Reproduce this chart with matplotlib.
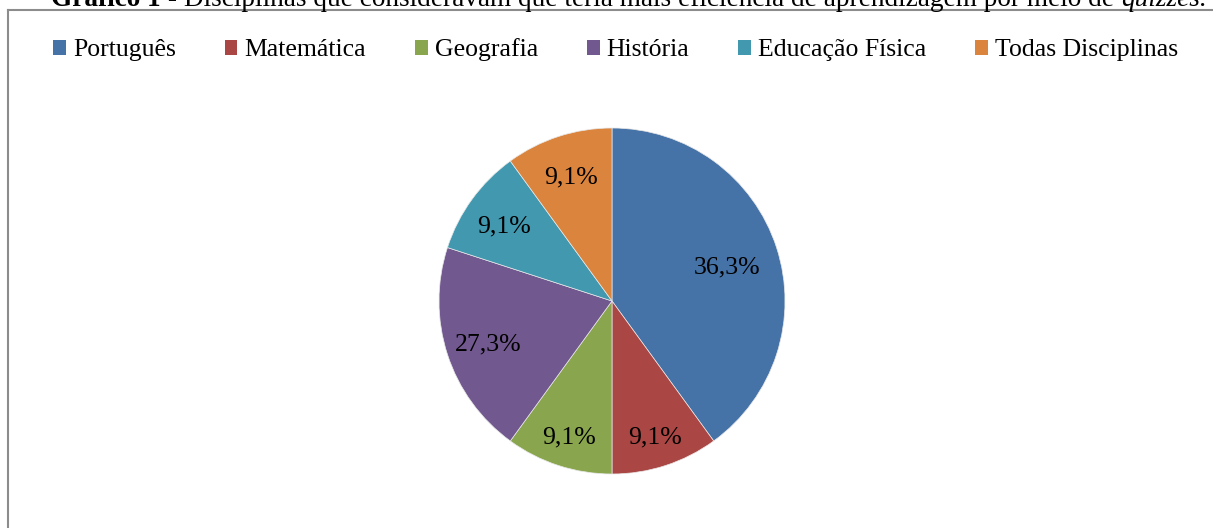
import numpy as np
import matplotlib.pyplot as plt
from matplotlib.patches import Patch
from matplotlib.lines import Line2D

plt.rcParams['font.family'] = ['Liberation Serif', 'DejaVu Serif']

# dados do gráfico (tamanho das fatias, rótulos como aparecem)
disciplinas = ["Português", "Matemática", "Geografia", "História", "Educação Física", "Todas Disciplinas"]
fatias = [4, 1, 1, 2, 1, 1]
rotulos = ["36,3%", "9,1%", "9,1%", "27,3%", "9,1%", "9,1%"]
cores = ["#4572A7", "#AA4643", "#89A54E", "#71588F", "#4198AF", "#DB843D"]
dist_rotulos = [0.70, 0.81, 0.81, 0.75, 0.77, 0.77]

W, H = 1213, 528
fig = plt.figure(figsize=(W / 100, H / 100), dpi=100)

# moldura cinza (cortada na imagem original)
fx = 8 / W
fy = 1 - 10 / H
fig.add_artist(Line2D([fx, fx], [0, fy], transform=fig.transFigure, color="#8C8C8C", lw=1.5))
fig.add_artist(Line2D([fx, 1], [fy, fy], transform=fig.transFigure, color="#8C8C8C", lw=1.5))

# pizza
r = 173
cx, cy = 612, 301
ax = fig.add_axes([(cx - r) / W, (H - cy - r) / H, 2 * r / W, 2 * r / H])
wedges, _ = ax.pie(fatias, colors=cores, startangle=90, counterclock=False,
                   radius=1, wedgeprops=dict(linewidth=0.5, edgecolor="#E8E8E8"))
ax.set_xlim(-1, 1)
ax.set_ylim(-1, 1)
ax.set_aspect("equal")
ax.axis("off")

for w, lab, d in zip(wedges, rotulos, dist_rotulos):
    ang = np.deg2rad((w.theta1 + w.theta2) / 2)
    ax.text(d * np.cos(ang), d * np.sin(ang) - 0.02, lab, ha="center", va="center",
            fontsize=18.5, color="black")

# legenda
handles = [Patch(facecolor=c, edgecolor="none") for c in cores]
fig.legend(handles, disciplinas, loc="center", bbox_to_anchor=(615.5 / W, 1 - 50 / H),
           ncol=6, frameon=False, fontsize=18.5, handlelength=0.5, handleheight=0.5,
           handletextpad=0.27, columnspacing=1.9, borderaxespad=0)

# título (parte de cima cortada, como no original)
renderer = fig.canvas.get_renderer()
partes = [("Gráfico 1", "bold", "normal"),
          (" - Disciplinas que consideravam que teria mais eficiência de aprendizagem por meio de ", "normal", "normal"),
          ("quizzes.", "normal", "italic")]
ty = 1 - 6 / H
textos = []
for s, peso, estilo in partes:
    t = fig.text(0, ty, s, fontsize=19.6, fontweight=peso, fontstyle=estilo, va="baseline", ha="left")
    textos.append(t)
larguras = [t.get_window_extent(renderer).width for t in textos]
x = 629 - sum(larguras) / 2
for t, lw in zip(textos, larguras):
    t.set_x(x / W)
    x += lw

fig.savefig("out.png", dpi=100)
